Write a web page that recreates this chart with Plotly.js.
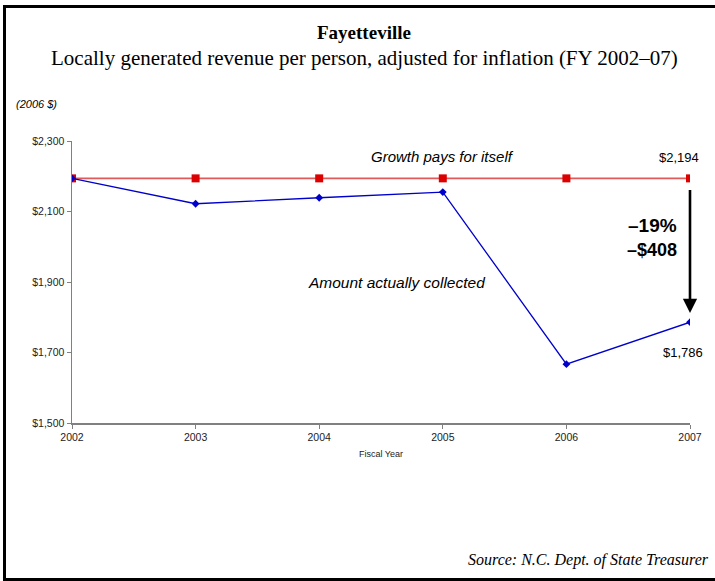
<!DOCTYPE html>
<html>
<head>
<meta charset="utf-8">
<script src="https://cdn.plot.ly/plotly-3.0.1.min.js"></script>
<style>
html,body{margin:0;padding:0;background:#fff;overflow:hidden;}
#frame{position:absolute;left:3px;top:5px;width:730px;height:570px;border-left:3px solid #000;border-top:3px solid #000;border-bottom:3px solid #000;pointer-events:none;z-index:5;}
#chart{position:absolute;left:0;top:0;width:715px;height:581px;}
</style>
</head>
<body>
<div id="chart"></div>
<div id="frame"></div>
<script>
const years = [2002, 2003, 2004, 2005, 2006, 2007];
const growthPays = [2194, 2194, 2194, 2194, 2194, 2194];
const collected = [2194, 2122, 2139, 2155, 1667, 1786];
const yTicks = [1500, 1700, 1900, 2100, 2300];

const serif = '"Liberation Serif", "DejaVu Serif", serif';
const sans = 'Arial, "Liberation Sans", sans-serif';

const traces = [
  {
    x: years, y: growthPays, type: 'scatter', mode: 'lines+markers',
    line: {color: '#e05a5a', width: 1.6},
    marker: {symbol: 'square', size: 8, color: '#dd0000'},
    hoverinfo: 'skip', showlegend: false
  },
  {
    x: years, y: collected, type: 'scatter', mode: 'lines+markers',
    line: {color: '#0000cc', width: 1.3},
    marker: {symbol: 'diamond', size: 6, color: '#0000cc'},
    hoverinfo: 'skip', showlegend: false
  }
];

const last = years.length - 1;
const layout = {
  width: 715, height: 581,
  margin: {l: 72, r: 25, t: 141, b: 158},
  paper_bgcolor: '#ffffff', plot_bgcolor: '#ffffff',
  showlegend: false,
  xaxis: {
    range: [years[0], years[last]], tickvals: years, ticktext: years.map(String),
    showgrid: false, zeroline: false, showline: true, linecolor: '#808080', linewidth: 1.5,
    ticks: 'outside', ticklen: 4, tickcolor: '#808080',
    tickfont: {family: sans, size: 10.5, color: '#222'},
    title: {text: 'Fiscal Year', font: {family: sans, size: 9, color: '#222'}, standoff: 8}
  },
  yaxis: {
    range: [yTicks[0], yTicks[yTicks.length - 1]], tickvals: yTicks,
    ticktext: yTicks.map(v => '$' + v.toLocaleString('en-US')),
    showgrid: false, zeroline: false, showline: true, linecolor: '#808080', linewidth: 1.5,
    ticks: 'outside', ticklen: 4, tickcolor: '#808080',
    tickfont: {family: sans, size: 10.5, color: '#222'}
  },
  annotations: [
    {xref: 'paper', yref: 'paper', x: 0.4725, y: 1.0, yshift: 109, xanchor: 'center', yanchor: 'middle',
     text: '<b>Fayetteville</b>', showarrow: false, font: {family: serif, size: 19, color: '#000'}},
    {xref: 'paper', yref: 'paper', x: 0.4725, y: 1.0, yshift: 83, xanchor: 'center', yanchor: 'middle',
     text: 'Locally generated revenue per person, adjusted for inflation (FY 2002–07)', showarrow: false,
     font: {family: serif, size: 21, color: '#000'}},
    {xref: 'paper', yref: 'paper', x: 0, xshift: -58, y: 1.0, yshift: 37, xanchor: 'left', yanchor: 'middle',
     text: '<i>(2006 $)</i>', showarrow: false, font: {family: sans, size: 11, color: '#000'}},
    {xref: 'paper', yref: 'paper', x: 1, xshift: 21, y: 0, yshift: -137, xanchor: 'right', yanchor: 'middle',
     text: '<i>Source: N.C. Dept. of State Treasurer</i>', showarrow: false,
     font: {family: serif, size: 16, color: '#000'}},
    {x: 2005.0, y: 2255, text: '<i>Growth pays for itself</i>', showarrow: false,
     xanchor: 'center', yanchor: 'middle', font: {family: sans, size: 15, color: '#000'}},
    {x: 2004.63, y: 1900, text: '<i>Amount actually collected</i>', showarrow: false,
     xanchor: 'center', yanchor: 'middle', font: {family: sans, size: 15.5, color: '#000'}},
    {x: years[last], y: growthPays[last], yshift: 21, xshift: -11, text: '$' + growthPays[last].toLocaleString('en-US'),
     showarrow: false, xanchor: 'center', yanchor: 'middle', font: {family: sans, size: 13, color: '#000'}},
    {x: years[last], y: collected[last], yshift: -30, xshift: -7, text: '$' + collected[last].toLocaleString('en-US'),
     showarrow: false, xanchor: 'center', yanchor: 'middle', font: {family: sans, size: 13, color: '#000'}},
    {x: years[last], y: 2059, xshift: -11, text: '<b>–19%</b>', showarrow: false,
     xanchor: 'right', yanchor: 'middle', font: {family: sans, size: 19, color: '#000'}},
    {x: years[last], y: 1991, xshift: -11, text: '<b>–$408</b>', showarrow: false,
     xanchor: 'right', yanchor: 'middle', font: {family: sans, size: 18, color: '#000'}},
    {x: years[last], y: 1812, ax: years[last], ay: 2165, axref: 'x', ayref: 'y', xref: 'x', yref: 'y',
     text: '', showarrow: true, arrowhead: 2, arrowsize: 1.1, arrowwidth: 2.6, arrowcolor: '#000'}
  ]
};

Plotly.newPlot('chart', traces, layout, {displayModeBar: false, staticPlot: true});
</script>
</body>
</html>
